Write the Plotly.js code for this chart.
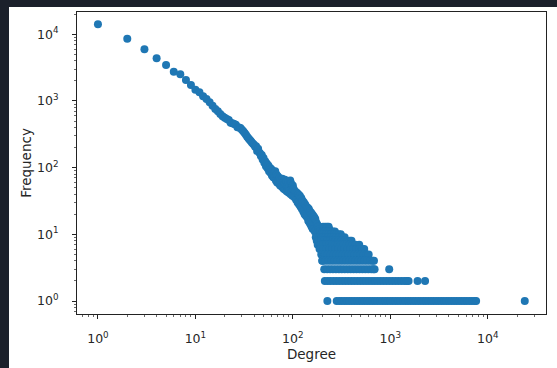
<!DOCTYPE html>
<html>
<head>
<meta charset="utf-8">
<script src="https://cdn.plot.ly/plotly-3.0.1.min.js"></script>
<style>
  html, body { margin: 0; padding: 0; width: 557px; height: 368px; background: #1b202b; overflow: hidden; }
  #frame { position: absolute; left: 9px; top: 7px; width: 548px; height: 361px; background: #ffffff; }
  #chart { width: 548px; height: 361px; }
</style>
</head>
<body>
<div id="frame"><div id="chart"></div></div>
<script>
// Main body of the degree distribution (degree -> frequency)
const curveDegree = [
  1,2,3,4,5,6,7,8,9,10,11,12,13,14,15,16,17,18,19,20,21,22,23,24,25,26,27,28,29,30,31,32,33,34,35,36,37,38,39,
  40,41,42,43,44,45,46,47,48,49,50,51,52,53,54,55,56,57,58,59,60,61,62,63,64,65,66,67,68,69,70,
  71,72,73,74,75,76,77,78,79,80,81,82,83,84,85,86,87,88,89,90,91,92,93,94,95,96,97,98,99,100,
  102,104,106,108,110,112,114,116,118,120,122,124,126,128,130,132,134,136,138,140,142,144,146,148,150,
  152,154,156,158,160,162,164,166,168,170,172,174,176,178,180,182,184,186,188,190,192,194,196,198,200
];
const curveFrequency = [
  14100,8600,5960,4370,3470,2750,2510,2070,1740,1470,1350,1180,1070,960,850,760,700,640,590,560,535,520,470,465,450,440,405,400,392,370,350,330,310,290,275,262,250,238,228,
  220,205,210,178,192,170,165,150,155,132,140,118,125,105,115,98,108,88,100,84,95,76,90,72,84,70,88,64,78,60,74,
  66,58,70,54,66,60,52,68,50,62,48,58,66,46,56,62,44,54,48,60,42,52,45,64,40,58,44,50,38,54,
  48,36,44,33,42,30,40,28,38,26,35,24,32,22,30,20,28,19,26,18,25,16,24,15,22,
  14,21,13,20,12,19,12,18,11,17,9,15,8,14,7,13,8,12,6,11,7,10,5,9,4
];
// Tail: degrees observed with a given small frequency
const degreesFreq13 = [204,214,224,233];
const degreesFreq12 = [208,220,236];
const degreesFreq11 = [202,212,226,242,258,270];
const degreesFreq10 = [206,218,232,248,264,280,296,310];
const degreesFreq9 = [203,216,230,246,262,280,300,320,340];
const degreesFreq8 = [197,210,225,240,257,275,295,316,338,362,385,400];
const degreesFreq7 = [194,204,219,235,252,270,290,311,333,357,382,410,440,480];
const degreesFreq6 = [192,207,222,238,255,274,294,316,339,364,390,418,448,480,512,540];
const degreesFreq5 = [198,213,228,245,263,282,303,325,349,374,402,431,462,496,532,570,600];
const degreesFreq4 = [202,216,232,249,267,287,308,330,354,380,408,438,470,504,541,580,622,660,680];
const degreesFreq3 = [210,225,241,258,277,297,318,341,366,392,420,450,483,518,555,595,638,670,690,975];
const degreesFreq2 = [213,228,244,262,281,301,323,346,371,398,427,458,491,526,564,605,649,696,746,800,858,920,986,1057,1133,1215,1303,1397,1480,1540,1905,2275];
const degreesFreq1 = [226,282,300,318,338,359,381,405,430,457,485,515,547,581,617,655,696,739,785,834,886,941,1000,1062,1128,1198,1273,1352,1436,1525,1620,1721,1828,1942,2063,2191,2327,2472,2626,2789,2963,3147,3343,3551,3772,4007,4256,4521,4802,5101,5418,5755,6113,6494,6898,7327,7600,24000];

const tailRows = [
  [13, degreesFreq13],[12, degreesFreq12],[11, degreesFreq11],[10, degreesFreq10],[9, degreesFreq9],
  [8, degreesFreq8],[7, degreesFreq7],[6, degreesFreq6],[5, degreesFreq5],[4, degreesFreq4],
  [3, degreesFreq3],[2, degreesFreq2],[1, degreesFreq1]
];

const xTickVals = [1, 10, 100, 1000, 10000];
const xTickText = ['10<sup>0</sup>','10<sup>1</sup>','10<sup>2</sup>','10<sup>3</sup>','10<sup>4</sup>'];
const yTickVals = [1, 10, 100, 1000, 10000];
const yTickText = ['10<sup>0</sup>','10<sup>1</sup>','10<sup>2</sup>','10<sup>3</sup>','10<sup>4</sup>'];

const xs = curveDegree.slice();
const ys = curveFrequency.slice();
tailRows.forEach(([f, degs]) => { degs.forEach(d => { xs.push(d); ys.push(f); }); });

const minorVals = [];
for (let e = -1; e <= 5; e++) {
  for (let m = 2; m <= 9; m++) minorVals.push(m * Math.pow(10, e));
}

const tickFont = { family: 'DejaVu Sans', size: 12.5, color: '#262626' };
const axisCommon = {
  type: 'log',
  showgrid: false,
  zeroline: false,
  showline: true,
  linecolor: '#222',
  linewidth: 1,
  mirror: true,
  ticks: 'outside',
  ticklen: 4,
  tickwidth: 1,
  tickcolor: '#222',
  tickmode: 'array',
  tickfont: tickFont,
  minor: { tickmode: 'array', tickvals: minorVals, ticks: 'outside', ticklen: 2, tickwidth: 0.8, tickcolor: '#444', showgrid: false }
};

const trace = {
  type: 'scatter',
  mode: 'markers',
  x: xs,
  y: ys,
  marker: { color: '#1f77b4', size: 8, line: { width: 0 } },
  hoverinfo: 'skip'
};

const layout = {
  width: 548,
  height: 361,
  margin: { l: 68, r: 11, t: 5, b: 54 },
  paper_bgcolor: '#ffffff',
  plot_bgcolor: '#ffffff',
  showlegend: false,
  font: { family: 'DejaVu Sans', color: '#262626' },
  xaxis: Object.assign({}, axisCommon, {
    range: [-0.215, 4.598],
    tickvals: xTickVals,
    ticktext: xTickText,
    ticklabelstandoff: 9,
    title: { text: 'Degree', font: { family: 'DejaVu Sans', size: 13.5, color: '#262626' }, standoff: 4 }
  }),
  yaxis: Object.assign({}, axisCommon, {
    range: [-0.195, 4.334],
    tickvals: yTickVals,
    ticktext: yTickText,
    ticklabelstandoff: 11,
    title: { text: 'Frequency', font: { family: 'DejaVu Sans', size: 13.5, color: '#262626' }, standoff: 2 }
  })
};

Plotly.newPlot('chart', [trace], layout, { staticPlot: true, displayModeBar: false });
</script>
</body>
</html>
